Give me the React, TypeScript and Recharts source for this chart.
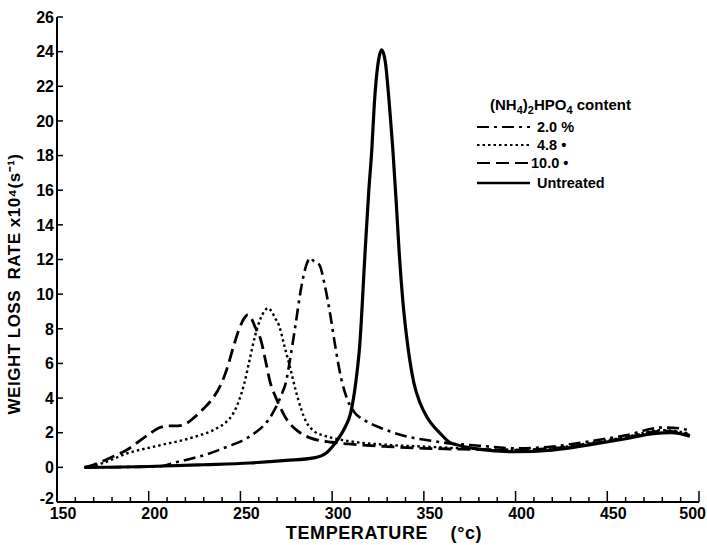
import React from 'react'
import { LineChart, Line, XAxis, YAxis } from 'recharts'

// temperature (°C) and weight loss rate x10^4 (s^-1)
const untreatedT = [165, 200, 230, 255, 275, 290, 297, 303, 307, 310, 313, 315, 318, 320, 321.6, 323, 325, 327, 329, 331, 333, 335, 336.5, 338.5, 341.5, 344.5, 348, 352, 359, 364, 370, 380, 400, 420, 440, 460, 475, 485, 495]
const untreatedV = [0, 0.05, 0.15, 0.25, 0.4, 0.55, 0.85, 1.6, 2.3, 3.1, 5.0, 7.0, 12.5, 16.0, 18.3, 21.0, 23.3, 24.1, 23.4, 21.2, 18.5, 15.2, 12.5, 9.65, 6.8, 4.9, 3.7, 2.85, 1.95, 1.45, 1.25, 1.05, 0.9, 1.0, 1.3, 1.65, 1.95, 2.0, 1.8]

const p10T = [165, 170, 180, 188, 194, 200, 206, 211, 216, 220, 225, 230, 235, 239, 243, 246, 249, 252, 254, 256, 258, 261, 264, 266, 269, 272, 275, 279, 284, 288, 300, 315, 330, 350, 370, 400, 420, 440, 460, 480, 490, 495]
const p10V = [0, 0.15, 0.6, 1.0, 1.45, 1.9, 2.3, 2.4, 2.4, 2.5, 2.9, 3.4, 4.0, 4.7, 5.8, 6.9, 7.9, 8.6, 8.8, 8.6, 8.1, 7.4, 6.0, 5.0, 4.1, 3.4, 2.8, 2.3, 1.9, 1.7, 1.45, 1.3, 1.2, 1.1, 1.05, 1.0, 1.1, 1.35, 1.7, 2.1, 2.0, 1.85]

const p48T = [165, 175, 188, 206, 224, 237, 242, 246, 249, 252, 255, 258, 261, 263, 265, 267, 269, 271, 274, 277, 280, 283, 286, 290, 295, 300, 310, 330, 350, 370, 400, 420, 440, 460, 480, 490, 495]
const p48V = [0, 0.25, 0.8, 1.27, 1.73, 2.25, 2.6, 3.1, 3.8, 4.8, 6.2, 7.6, 8.6, 9.0, 9.2, 9.0, 8.6, 8.2, 7.0, 5.8, 4.5, 3.4, 2.6, 2.1, 1.85, 1.7, 1.5, 1.3, 1.2, 1.1, 1.0, 1.1, 1.4, 1.75, 2.15, 2.05, 1.95]

const p20T = [165, 190, 205, 215, 225, 233, 243, 252, 258, 265, 269, 272, 275, 277, 280, 283, 286, 288, 290, 293, 296, 299, 302, 305, 308, 312, 318, 326, 340, 353, 363, 380, 400, 420, 440, 460, 480, 490, 495]
const p20V = [0, 0.02, 0.05, 0.3, 0.55, 0.8, 1.2, 1.6, 2.0, 2.7, 3.4, 4.1, 5.0, 6.2, 8.2, 10.3, 11.7, 12.1, 11.9, 11.7, 10.5, 8.8, 6.8, 5.1, 4.0, 3.2, 2.7, 2.3, 1.8, 1.55, 1.4, 1.25, 1.1, 1.2, 1.5, 1.85, 2.3, 2.25, 2.1]

const xTicks = [150, 160, 170, 180, 190, 200, 210, 220, 230, 240, 250, 260, 270, 280, 290, 300, 310, 320, 330, 340, 350, 360, 370, 380, 390, 400, 410, 420, 430, 440, 450, 460, 470, 480, 490, 500]
const yTicks = [-2, 0, 2, 4, 6, 8, 10, 12, 14, 16, 18, 20, 22, 24, 26]

const legendLabels = ['2.0 %', '4.8 •', '10.0 •', 'Untreated']
const dashes = ['12 5 3 5', '2.5 3', '13 6', undefined]

const toRows = (t: number[], v: number[]) => t.map((x, i) => ({ t: x, v: v[i] }))

const font = '"Liberation Sans", Arial, sans-serif'

const XTick = (props: any) => {
  const { x, y, payload } = props
  const major = payload.value % 50 === 0
  const last = payload.value === 500
  return (
    <g>
      <line x1={x} y1={y} x2={x} y2={y - (major ? 11 : 5)} stroke="#000" strokeWidth={1.5} />
      {major && (
        <text
          x={last ? 706 : x + 6}
          y={y + 17}
          textAnchor={last ? 'end' : 'middle'}
          fontFamily={font}
          fontWeight="bold"
          fontSize={16}
          fill="#000"
        >
          {payload.value}
        </text>
      )}
    </g>
  )
}

const YTick = (props: any) => {
  const { x, y, payload } = props
  return (
    <g>
      <line x1={x} y1={y} x2={x + 6} y2={y} stroke="#000" strokeWidth={1.5} />
      <text x={x - 3} y={payload.value === -2 ? y - 4 : y} dy="0.36em" textAnchor="end" fontFamily={font} fontWeight="bold" fontSize={16} fill="#000">
        {payload.value}
      </text>
    </g>
  )
}

export default function App() {
  const series = [toRows(p20T, p20V), toRows(p48T, p48V), toRows(p10T, p10V), toRows(untreatedT, untreatedV)]
  const widths = [2.6, 2.4, 2.8, 3.2]
  const legendY = [127, 145, 163, 183]

  return (
    <div style={{ position: 'absolute', left: 0, top: 0, width: 707, height: 545, background: '#fff' }}>
      <LineChart width={707} height={545} margin={{ top: 17, right: 8, bottom: 0, left: 0 }}>
        <XAxis
          dataKey="t"
          type="number"
          domain={[150, 500]}
          ticks={xTicks}
          interval={0}
          height={43}
          tickSize={0}
          tickMargin={0}
          tick={<XTick />}
          axisLine={{ stroke: '#000', strokeWidth: 2 }}
          tickLine={false}
          allowDataOverflow
          label={{
            position: 'insideBottom',
            content: () => (
              <text x={384} y={539} textAnchor="middle" fontFamily={font} fontWeight="bold" fontSize={18} fill="#000" letterSpacing={0.6}>
                TEMPERATURE{'\u00a0\u00a0\u00a0\u00a0'}(°c)
              </text>
            ),
          }}
        />
        <YAxis
          type="number"
          domain={[-2, 26]}
          ticks={yTicks}
          interval={0}
          width={57}
          tickSize={0}
          tickMargin={0}
          tick={<YTick />}
          axisLine={{ stroke: '#000', strokeWidth: 2 }}
          tickLine={false}
          allowDataOverflow
          label={{
            position: 'insideLeft',
            content: () => (
              <text x={20} y={284} transform="rotate(-90 20 284)" textAnchor="middle" fontFamily={font} fontWeight="bold" fontSize={17} fill="#000" letterSpacing={0.5}>
                WEIGHT LOSS{'\u00a0\u00a0'}RATE x10⁴(s⁻¹)
              </text>
            ),
          }}
        />
        {series.map((rows, i) => (
          <Line
            key={legendLabels[i]}
            data={rows}
            dataKey="v"
            type="monotone"
            stroke="#000"
            strokeWidth={widths[i]}
            strokeDasharray={dashes[i]}
            dot={false}
            activeDot={false}
            isAnimationActive={false}
          />
        ))}
        <g fontFamily={font} fontWeight="bold" fill="#000">
          <text x={490} y={110} fontSize={15}>
            (NH<tspan fontSize={11} dy={4}>4</tspan>
            <tspan dy={-4}>)</tspan>
            <tspan fontSize={11} dy={4}>2</tspan>
            <tspan dy={-4}>HPO</tspan>
            <tspan fontSize={11} dy={4}>4</tspan>
            <tspan dy={-4}> content</tspan>
          </text>
          {legendLabels.map((lab, i) => (
            <g key={lab}>
              <line x1={477} y1={legendY[i]} x2={530} y2={legendY[i]} stroke="#000" strokeWidth={i === 3 ? 2.4 : 2} strokeDasharray={dashes[i]} />
              <text x={i === 2 ? 531 : 537} y={legendY[i] + 5} fontSize={14.5}>
                {lab}
              </text>
            </g>
          ))}
        </g>
      </LineChart>
    </div>
  )
}
